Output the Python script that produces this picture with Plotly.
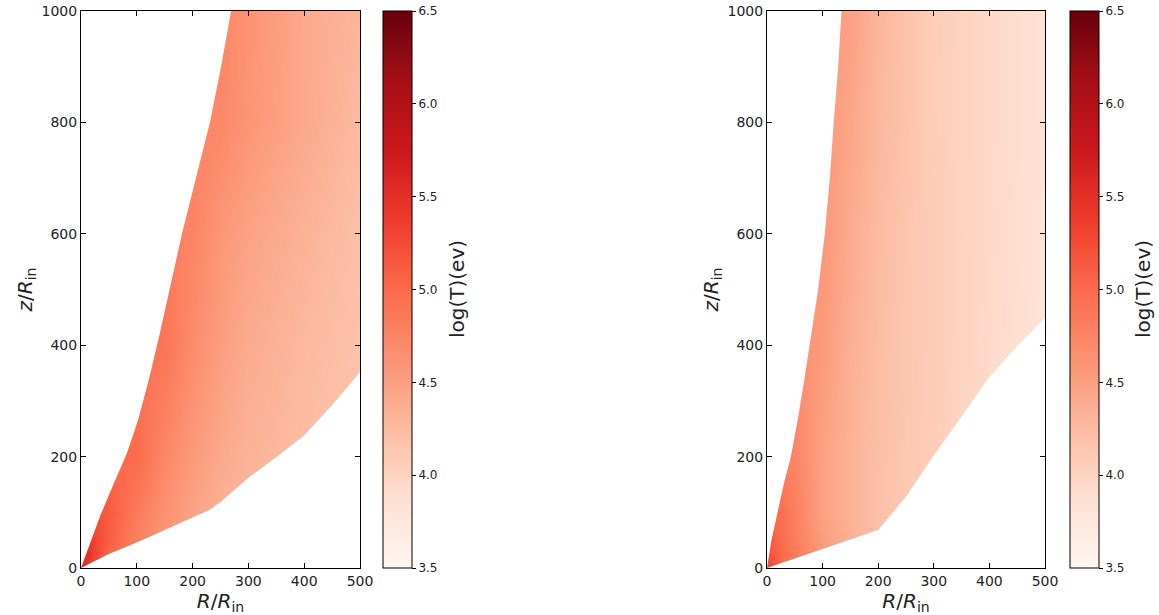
import plotly.graph_objects as go

# ---------------- data ----------------
R_grid = [0, 10, 25, 50, 100, 150, 200, 250, 300, 400, 500]
z_grid = [0, 25, 50, 100, 200, 400, 600, 800, 1000]

logT_left = [
    [5.60, 5.45, 5.20, 5.00, 4.75, 4.60, 4.45, 4.33, 4.28, 4.22, 4.17],
    [5.60, 5.50, 5.30, 5.02, 4.76, 4.60, 4.45, 4.33, 4.28, 4.22, 4.17],
    [5.50, 5.45, 5.30, 5.10, 4.78, 4.61, 4.46, 4.34, 4.28, 4.22, 4.17],
    [5.30, 5.30, 5.20, 5.12, 4.85, 4.63, 4.48, 4.35, 4.29, 4.22, 4.17],
    [5.00, 5.00, 5.00, 5.00, 4.98, 4.72, 4.55, 4.42, 4.33, 4.23, 4.17],
    [4.90, 4.90, 4.90, 4.90, 4.90, 4.90, 4.68, 4.52, 4.40, 4.27, 4.18],
    [4.82, 4.82, 4.82, 4.82, 4.82, 4.82, 4.75, 4.58, 4.48, 4.33, 4.20],
    [4.77, 4.77, 4.77, 4.77, 4.77, 4.77, 4.77, 4.72, 4.60, 4.42, 4.25],
    [4.72, 4.72, 4.72, 4.72, 4.72, 4.72, 4.72, 4.72, 4.62, 4.42, 4.30],
]

logT_right = [
    [5.35, 5.20, 5.00, 4.85, 4.55, 4.35, 4.20, 4.12, 4.05, 3.92, 3.82],
    [5.20, 5.15, 5.00, 4.85, 4.55, 4.35, 4.20, 4.12, 4.05, 3.92, 3.82],
    [5.10, 5.10, 4.98, 4.82, 4.52, 4.35, 4.20, 4.12, 4.05, 3.92, 3.82],
    [4.95, 4.95, 4.95, 4.80, 4.48, 4.33, 4.20, 4.12, 4.06, 3.92, 3.82],
    [4.78, 4.78, 4.78, 4.75, 4.48, 4.33, 4.21, 4.13, 4.07, 3.93, 3.82],
    [4.65, 4.65, 4.65, 4.65, 4.55, 4.36, 4.23, 4.14, 4.08, 3.94, 3.83],
    [4.60, 4.60, 4.60, 4.60, 4.58, 4.40, 4.25, 4.15, 4.08, 3.95, 3.84],
    [4.57, 4.57, 4.57, 4.57, 4.57, 4.45, 4.28, 4.17, 4.07, 3.95, 3.85],
    [4.55, 4.55, 4.55, 4.55, 4.55, 4.50, 4.30, 4.18, 4.06, 3.95, 3.85],
]

# boundaries of the filled region (R, z)
upper_left_R = [0, 16, 35, 58, 82, 103, 122, 141, 160, 181, 206, 231, 251, 269]
upper_left_z = [0, 45, 95, 150, 205, 268, 340, 420, 505, 600, 700, 800, 900, 1000]
lower_left_R = [0, 50, 100, 150, 200, 230, 252, 300, 350, 400, 450, 500]
lower_left_z = [0, 25, 46, 68, 90, 104, 120, 162, 199, 238, 292, 352]

upper_right_R = [0, 8, 19, 30, 43, 56, 67, 77, 92, 104, 113, 120, 128, 134]
upper_right_z = [0, 50, 100, 150, 200, 270, 337, 400, 500, 600, 700, 800, 900, 1000]
lower_right_R = [0, 35, 100, 150, 200, 250, 300, 350, 400, 450, 500]
lower_right_z = [0, 12, 34, 51, 68, 128, 202, 272, 343, 398, 449]

x_ticks = [0, 100, 200, 300, 400, 500]
y_ticks = [0, 200, 400, 600, 800, 1000]
cb_ticks = [3.5, 4.0, 4.5, 5.0, 5.5, 6.0, 6.5]
cb_label = "log(T)(ev)"

reds = ["#fff5f0", "#fee0d2", "#fcbba1", "#fc9272", "#fb6a4a",
        "#ef3b2c", "#cb181d", "#a50f15", "#67000d"]
colorscale = [[i / (len(reds) - 1), c] for i, c in enumerate(reds)]

# ---------------- layout geometry (px) ----------------
W, H = 1159, 615
top_px, bot_px = 11, 568
panels = [
    dict(x0=81, x1=360, cb=383, lab=457, xa="x", ya="y",
         T=logT_left, uR=upper_left_R, uz=upper_left_z, lR=lower_left_R, lz=lower_left_z),
    dict(x0=767, x1=1045, cb=1070, lab=1143, xa="x2", ya="y2",
         T=logT_right, uR=upper_right_R, uz=upper_right_z, lR=lower_right_R, lz=lower_right_z),
]

fig = go.Figure()
font = "DejaVu Sans"
y_dom = [1 - bot_px / H, 1 - top_px / H]

for i, p in enumerate(panels):
    fig.add_trace(go.Heatmap(
        x=R_grid, y=z_grid, z=p["T"], zsmooth="best",
        zmin=3.5, zmax=6.5, colorscale=colorscale,
        xaxis=p["xa"], yaxis=p["ya"], hoverinfo="skip",
        colorbar=dict(
            x=p["cb"] / W, xanchor="left", xref="paper",
            y=y_dom[1], yanchor="top", yref="paper",
            len=(bot_px - top_px) / H, lenmode="fraction",
            thickness=29, thicknessmode="pixels", xpad=0, ypad=0,
            outlinecolor="black", outlinewidth=1,
            tickvals=cb_ticks, ticktext=[f"{v:.1f}" for v in cb_ticks],
            ticks="outside", ticklen=4, tickcolor="black",
            ticklabeloverflow="allow",
            tickfont=dict(family=font, size=12, color="#222"),
        ),
    ))
    # white masks outside the region
    fig.add_trace(go.Scatter(
        x=p["uR"] + [-30, -30], y=p["uz"] + [1100, 0],
        fill="toself", fillcolor="white", mode="lines",
        line=dict(width=0, color="white"),
        xaxis=p["xa"], yaxis=p["ya"], showlegend=False, hoverinfo="skip"))
    fig.add_trace(go.Scatter(
        x=p["lR"] + [540, 540], y=p["lz"] + [p["lz"][-1], -50],
        fill="toself", fillcolor="white", mode="lines",
        line=dict(width=0, color="white"),
        xaxis=p["xa"], yaxis=p["ya"], showlegend=False, hoverinfo="skip"))

    axis_common = dict(
        showline=True, linecolor="black", linewidth=1, mirror="ticks",
        ticks="inside", ticklen=5, tickcolor="black", showgrid=False,
        zeroline=False, tickfont=dict(family=font, size=14, color="#222"),
        layer="above traces", automargin=False, ticklabeloverflow="allow",
    )
    xkey = "xaxis" if i == 0 else "xaxis2"
    ykey = "yaxis" if i == 0 else "yaxis2"
    fig.update_layout({
        xkey: dict(axis_common, domain=[p["x0"] / W, p["x1"] / W],
                   range=[0, 500], tickvals=x_ticks, anchor=p["ya"],
                   title=dict(text="<i>R</i>/<i>R</i><sub>in</sub>", standoff=0,
                              font=dict(family=font, size=20, color="#222"))),
        ykey: dict(axis_common, domain=y_dom, range=[0, 1000],
                   tickvals=y_ticks, anchor=p["xa"],
                   title=dict(text="<i>z</i>/<i>R</i><sub>in</sub>", standoff=3,
                              font=dict(family=font, size=20, color="#222"))),
    })
    fig.add_annotation(
        text=cb_label, textangle=-90, x=p["lab"] / W, y=1 - 289 / H,
        xanchor="center", yanchor="middle",
        xref="paper", yref="paper", showarrow=False,
        font=dict(family=font, size=20, color="#222"))

fig.update_layout(
    width=W, height=H, margin=dict(l=0, r=0, t=0, b=0, autoexpand=False),
    paper_bgcolor="white", plot_bgcolor="white", showlegend=False,
)

fig.write_html(
    "out.html",
    config={"displayModeBar": False, "staticPlot": True},
    post_script="document.body.style.margin='0';document.body.style.overflow='hidden';",
)
